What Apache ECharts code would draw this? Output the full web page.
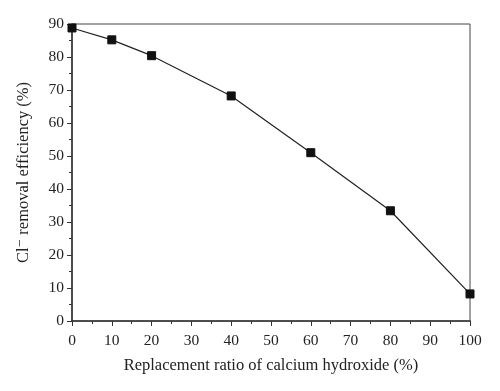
<!DOCTYPE html>
<html><head><meta charset="utf-8">
<script src="https://cdn.jsdelivr.net/npm/echarts@6/dist/echarts.min.js"></script>
<style>html,body{margin:0;padding:0;background:#fff}#c{width:500px;height:391px}</style>
</head><body><div id="c"></div>
<script>
const ratios = [0, 10, 20, 40, 60, 80, 100];
const efficiency = [88.8, 85.2, 80.4, 68.2, 51.0, 33.4, 8.2];
const xTitle = 'Replacement ratio of calcium hydroxide (%)';
const yTitle = 'Cl\u207B removal efficiency (%)';

const font = '"Liberation Serif", "DejaVu Serif", serif';
const chart = echarts.init(document.getElementById('c'));
chart.setOption({
  animation: false,
  grid: {left: 72, right: 30, top: 24, bottom: 70, show: true, borderColor: '#444', borderWidth: 1},
  xAxis: {
    type: 'value', min: 0, max: 100, interval: 10,
    name: xTitle, nameLocation: 'middle', nameGap: 36,
    nameTextStyle: {fontFamily: font, fontSize: 16.5, color: '#222'},
    axisLine: {show: true, lineStyle: {color: '#333', width: 1.5}},
    axisTick: {show: true, inside: false, length: 5, lineStyle: {color: '#333'}},
    minorTick: {show: true, splitNumber: 2, length: 3, lineStyle: {color: '#333'}},
    axisLabel: {fontFamily: font, fontSize: 15.5, color: '#222', margin: 12},
    splitLine: {show: false}
  },
  yAxis: {
    type: 'value', min: 0, max: 90, interval: 10,
    name: yTitle, nameLocation: 'middle', nameGap: 40,
    nameTextStyle: {fontFamily: font, fontSize: 16.5, color: '#222'},
    axisLine: {show: true, lineStyle: {color: '#333', width: 1.5}},
    axisTick: {show: true, inside: false, length: 5, lineStyle: {color: '#333'}},
    minorTick: {show: true, splitNumber: 2, length: 3, lineStyle: {color: '#333'}},
    axisLabel: {fontFamily: font, fontSize: 15.5, color: '#222', margin: 8},
    splitLine: {show: false}
  },
  series: [{
    type: 'line',
    data: ratios.map((r, i) => [r, efficiency[i]]),
    symbol: 'rect', symbolSize: 8, clip: true,
    lineStyle: {color: '#222', width: 1.2},
    itemStyle: {color: '#111', borderColor: '#111'}
  }]
});
</script></body></html>
